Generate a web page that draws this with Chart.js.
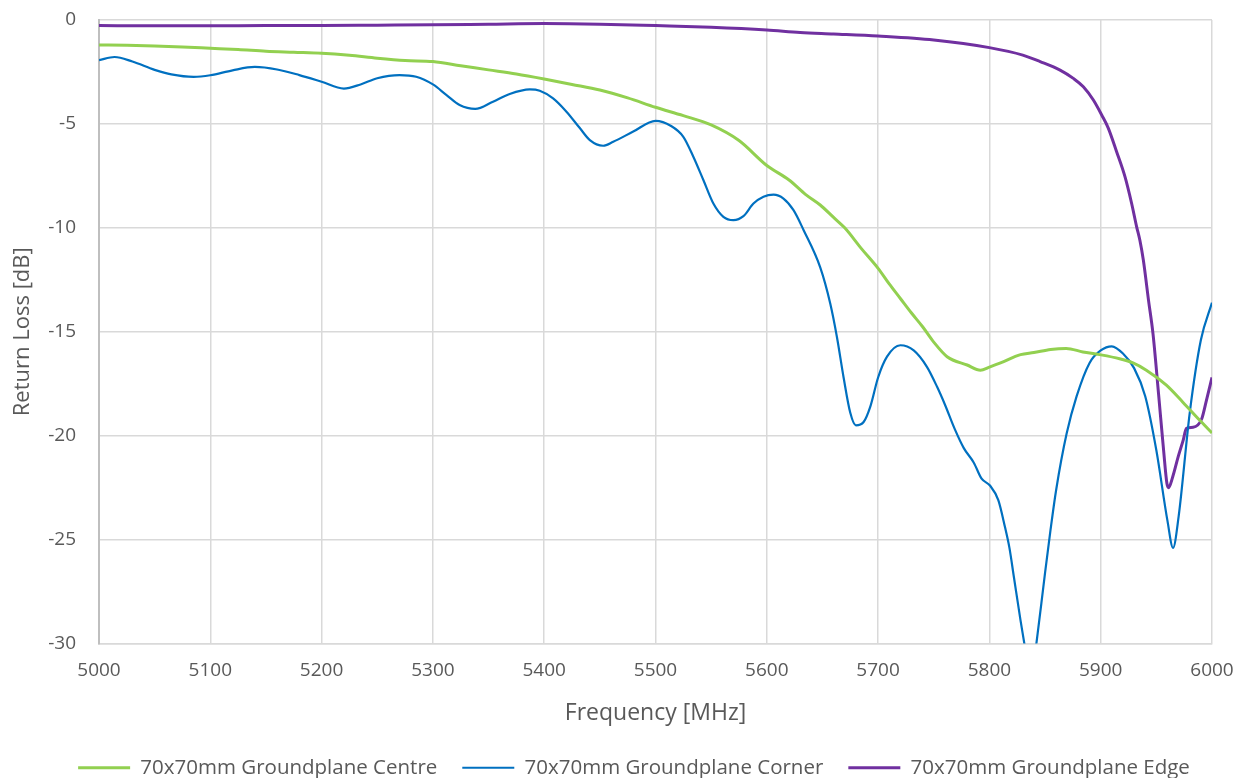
<!DOCTYPE html>
<html>
<head>
<meta charset="utf-8">
<script src="https://cdn.jsdelivr.net/npm/chart.js@4/dist/chart.umd.min.js"></script>
<style>
  html, body { margin: 0; padding: 0; background: #ffffff; }
  #wrap { width: 1247px; height: 778px; position: relative; }
</style>
</head>
<body>
<div id="wrap"><canvas id="c" width="1247" height="778"></canvas></div>
<script>
const seriesNames = ["70x70mm Groundplane Centre", "70x70mm Groundplane Corner", "70x70mm Groundplane Edge"];
const seriesColors = ["#92D050", "#0070C0", "#7030A0"];

const centreFreq = [5000,5025,5050,5075,5100,5125,5150,5175,5200,5225,5250,5275,5300,5325,5350,5375,5400,5425,5450,5475,5500,5525,5550,5575,5600,5620,5635,5648,5660,5670,5685,5700,5710,5720,5730,5740,5750,5762,5780,5792,5800,5810,5828,5840,5855,5869,5884,5899,5917,5929,5941,5959,5974,5989,6000];
const centreDb   = [-1.2,-1.22,-1.25,-1.3,-1.36,-1.42,-1.5,-1.55,-1.6,-1.7,-1.84,-1.95,-2.0,-2.2,-2.4,-2.6,-2.84,-3.1,-3.37,-3.75,-4.2,-4.6,-5.05,-5.8,-7.0,-7.7,-8.4,-8.9,-9.5,-10.0,-11.0,-11.95,-12.7,-13.4,-14.1,-14.76,-15.5,-16.2,-16.6,-16.85,-16.7,-16.5,-16.1,-16.0,-15.85,-15.8,-15.97,-16.1,-16.3,-16.5,-16.85,-17.57,-18.4,-19.26,-19.87];

const cornerFreq = [5000,5014,5030,5050,5065,5085,5100,5120,5140,5160,5180,5200,5220,5235,5250,5270,5285,5300,5312,5324,5338,5354,5369,5387,5396,5408,5420,5432,5441,5453,5462,5480,5500,5514,5525,5534,5543,5552,5561,5570,5579,5588,5597,5606,5615,5624,5633,5648,5657,5663,5669,5675,5680,5687,5693,5700,5708,5720,5732,5744,5753,5760,5769,5777,5786,5793,5800.5,5808,5814,5818,5822,5828,5832,5837,5842,5850,5855,5860,5869.4,5878.4,5890,5900,5910,5920,5930,5940,5950,5960,5965,5970,5980,5990,6000];
const cornerDb   = [-1.93,-1.78,-2.0,-2.4,-2.62,-2.74,-2.66,-2.42,-2.26,-2.38,-2.65,-2.97,-3.3,-3.1,-2.8,-2.65,-2.73,-3.1,-3.6,-4.09,-4.28,-3.93,-3.56,-3.34,-3.4,-3.77,-4.41,-5.2,-5.78,-6.05,-5.86,-5.37,-4.85,-5.1,-5.62,-6.58,-7.7,-8.83,-9.47,-9.63,-9.44,-8.83,-8.5,-8.4,-8.59,-9.15,-10.1,-11.9,-13.64,-15.25,-17.2,-18.9,-19.5,-19.34,-18.6,-17.2,-16.2,-15.65,-15.9,-16.7,-17.65,-18.5,-19.7,-20.6,-21.3,-22.07,-22.4,-23.1,-24.4,-25.4,-26.8,-28.9,-30.2,-32.0,-30.1,-26.6,-24.5,-22.6,-19.9,-18.1,-16.5,-15.9,-15.7,-16.05,-16.75,-18.1,-20.7,-24.1,-25.4,-23.9,-18.9,-15.4,-13.6];

const edgeFreq = [5000,5050,5100,5150,5200,5250,5300,5350,5400,5450,5500,5550,5600,5630,5660,5700,5750,5800,5830,5845.6,5863.5,5875.4,5884.4,5893.4,5900.9,5906.8,5914.3,5921.8,5927.8,5932.3,5935.2,5938.3,5943,5947,5952,5956.5,5959.5,5961,5964.6,5969.7,5974.2,5977,5983,5990.7,5995,6000];
const edgeDb   = [-0.27,-0.28,-0.28,-0.27,-0.27,-0.25,-0.23,-0.2,-0.17,-0.2,-0.27,-0.35,-0.48,-0.6,-0.67,-0.77,-0.96,-1.33,-1.69,-2.0,-2.41,-2.81,-3.21,-3.85,-4.57,-5.2,-6.34,-7.54,-8.83,-9.95,-10.6,-11.55,-13.5,-15.1,-18.0,-20.7,-22.3,-22.5,-22.0,-21.0,-20.2,-19.65,-19.6,-19.2,-18.3,-17.2];

const xTicks = [5000,5100,5200,5300,5400,5500,5600,5700,5800,5900,6000];
const yTicks = [0,-5,-10,-15,-20,-25,-30];
const xTitle = "Frequency [MHz]";
const yTitle = "Return Loss [dB]";

function pts(fx, fy) { return fx.map((f, i) => ({ x: f, y: fy[i] })); }

const textColor = "#595959";
const fontFam = "'Open Sans', 'DejaVu Sans', sans-serif";

new Chart(document.getElementById('c'), {
  type: 'line',
  data: {
    datasets: [
      { label: seriesNames[0], data: pts(centreFreq, centreDb), borderColor: seriesColors[0], backgroundColor: seriesColors[0], borderWidth: 3 },
      { label: seriesNames[1], data: pts(cornerFreq, cornerDb), borderColor: seriesColors[1], backgroundColor: seriesColors[1], borderWidth: 2.2 },
      { label: seriesNames[2], data: pts(edgeFreq, edgeDb), borderColor: seriesColors[2], backgroundColor: seriesColors[2], borderWidth: 3 }
    ]
  },
  options: {
    responsive: false,
    animation: false,
    devicePixelRatio: 1,
    layout: { padding: { left: 0, right: -21, top: 20, bottom: -10 } },
    elements: { point: { radius: 0 }, line: { cubicInterpolationMode: 'monotone' } },
    plugins: {
      tooltip: { enabled: false },
      legend: {
        position: 'bottom',
        labels: {
          usePointStyle: true, pointStyle: 'line', pointStyleWidth: 52,
          color: textColor, font: { family: fontFam, size: 20.5 }, padding: 25
        }
      }
    },
    scales: {
      x: {
        type: 'linear', min: 5000, max: 6000,
        afterBuildTicks: (s) => { s.ticks = xTicks.map(v => ({ value: v })); },
        ticks: { color: textColor, font: { family: fontFam, size: 19 }, padding: 16, maxRotation: 0, callback: (v) => String(v) },
        grid: { color: '#D9D9D9', lineWidth: 1.5, drawTicks: false },
        border: { color: '#D9D9D9', width: 1.5 },
        title: { display: true, text: xTitle, color: textColor, font: { family: fontFam, size: 23 }, padding: { top: 0, bottom: 5 } },
        afterFit: (s) => { s.height = 89; s.paddingLeft = 0; s.paddingRight = 0; }
      },
      y: {
        min: -30, max: 0,
        afterBuildTicks: (s) => { s.ticks = yTicks.map(v => ({ value: v })); },
        ticks: { color: textColor, font: { family: fontFam, size: 19 }, padding: 23, callback: (v) => String(v) },
        grid: { color: '#D9D9D9', lineWidth: 1.5, drawTicks: false },
        border: { color: '#BFBFBF', width: 2 },
        title: { display: true, text: yTitle, color: textColor, font: { family: fontFam, size: 22 }, padding: { top: 10, bottom: 0 } },
        afterFit: (s) => { s.width = 99; s.paddingTop = 0; s.paddingBottom = 0; }
      },
      yPad: {
        type: 'linear', position: 'right', display: true,
        ticks: { display: false }, grid: { display: false, drawTicks: false }, border: { display: false },
        afterFit: (s) => { s.width = 56; s.paddingTop = 0; s.paddingBottom = 0; }
      }
    }
  }
});
</script>
</body>
</html>
